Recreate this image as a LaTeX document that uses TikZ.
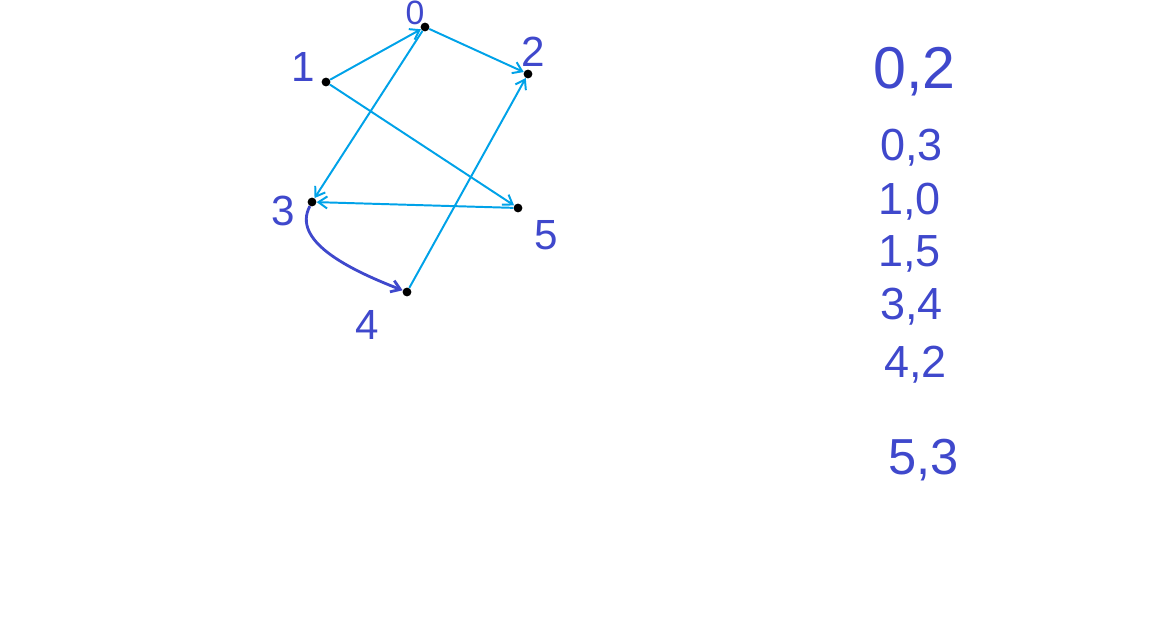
\documentclass[tikz,border=0pt]{standalone}
\usepackage{fontspec}
\setmainfont{Liberation Sans}
\usepackage{tikz}
\usetikzlibrary{arrows.meta}
\definecolor{EdgeBlue}{HTML}{00A2E8}
\definecolor{InkBlue}{HTML}{3F48CC}

\begin{document}
\begin{tikzpicture}[
  x=0.025cm, y=-0.025cm,
  >={Straight Barb[length=2.2mm,width=3mm]},
  vtx/.style={circle,fill=black,inner sep=0pt,minimum size=2.2mm},
  num/.style={text=InkBlue,font=\fontsize{30}{34}\selectfont,inner sep=0pt},
  pair/.style={text=InkBlue,font=\fontsize{#1}{#1}\selectfont,inner sep=0pt,anchor=west},
  e/.style={->,line width=1.4pt,EdgeBlue},
]
\useasboundingbox (0,0) rectangle (1176,642);

% vertices
\node[vtx] (v0) at (425,27)  {};
\node[vtx] (v1) at (326,82)  {};
\node[vtx] (v2) at (528,74)  {};
\node[vtx] (v3) at (312,202) {};
\node[vtx] (v4) at (407,292) {};
\node[vtx] (v5) at (518,208) {};

% vertex labels
\node[num,font=\fontsize{24}{26}\selectfont] (l0) at (415,13) {0};
\node[num] (l1) at (303,67)  {1};
\node[num] (l2) at (533,52)  {2};
\node[num] (l3) at (283,211) {3};
\node[num] (l4) at (367,325) {4};
\node[num] (l5) at (546,235) {5};

% edges
\draw[e] (v1) -- (v0);
\draw[e] (v0) -- (v2);
\draw[e] (v0) -- (v3);
\draw[e] (v1) -- (v5);
\draw[e] (v5) -- (v3);
\draw[e] (v4) -- (v2);
\draw[->,line width=2pt,InkBlue] (v3) .. controls (292,240) and (345,268) .. (v4);

% edge list
\node[pair=42] (p02) at (873,72)  {0,2};
\node[pair=32] (p03) at (880,148) {0,3};
\node[pair=32] (p10) at (878,202) {1,0};
\node[pair=32] (p15) at (878,254) {1,5};
\node[pair=32] (p34) at (880,307) {3,4};
\node[pair=32] (p42) at (884,365) {4,2};
\node[pair=36] (p53) at (888,460) {5,3};
\end{tikzpicture}
\end{document}
